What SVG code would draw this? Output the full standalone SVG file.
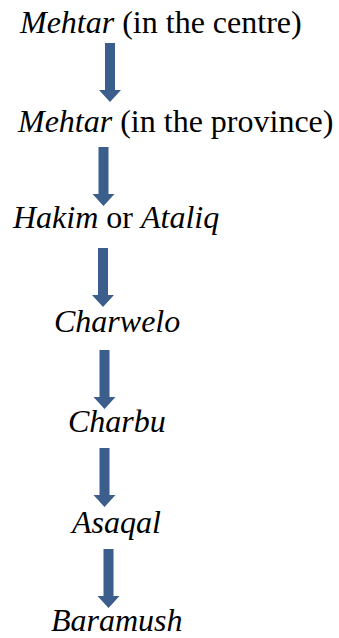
<svg xmlns="http://www.w3.org/2000/svg" width="339" height="638" viewBox="0 0 339 638">
  <style>
    text { font-family: "Liberation Serif", "Times New Roman", serif; font-size: 32px; fill: #000; }
    .i { font-style: italic; }
    .arrow { fill: #3B5E8C; }
  </style>
  <defs>
    <!-- down arrow, origin at the top centre of the shaft -->
    <path id="down" d="M-5,0 H5 V47 H11 L0,59 L-11,47 H-5 Z"/>
  </defs>
  <rect width="339" height="638" fill="#fff"/>

  <g id="connectors" class="arrow">
    <use href="#down" x="110" y="43"/>
    <use href="#down" x="103.5" y="147"/>
    <use href="#down" x="103" y="248"/>
    <use href="#down" x="104.5" y="350"/>
    <use href="#down" x="104.5" y="448"/>
    <use href="#down" x="108.5" y="549"/>
  </g>

  <g id="mehtar-centre"><text x="20" y="33"><tspan class="i">Mehtar</tspan> (in the centre)</text></g>
  <g id="mehtar-province"><text x="18" y="132"><tspan class="i">Mehtar</tspan> (in the province)</text></g>
  <g id="hakim-ataliq"><text x="13" y="228"><tspan class="i">Hakim</tspan> or <tspan class="i">Ataliq</tspan></text></g>
  <g id="charwelo"><text class="i" x="54" y="332">Charwelo</text></g>
  <g id="charbu"><text class="i" x="68" y="432">Charbu</text></g>
  <g id="asaqal"><text class="i" x="72" y="533">Asaqal</text></g>
  <g id="baramush"><text class="i" x="51" y="631">Baramush</text></g>
</svg>
